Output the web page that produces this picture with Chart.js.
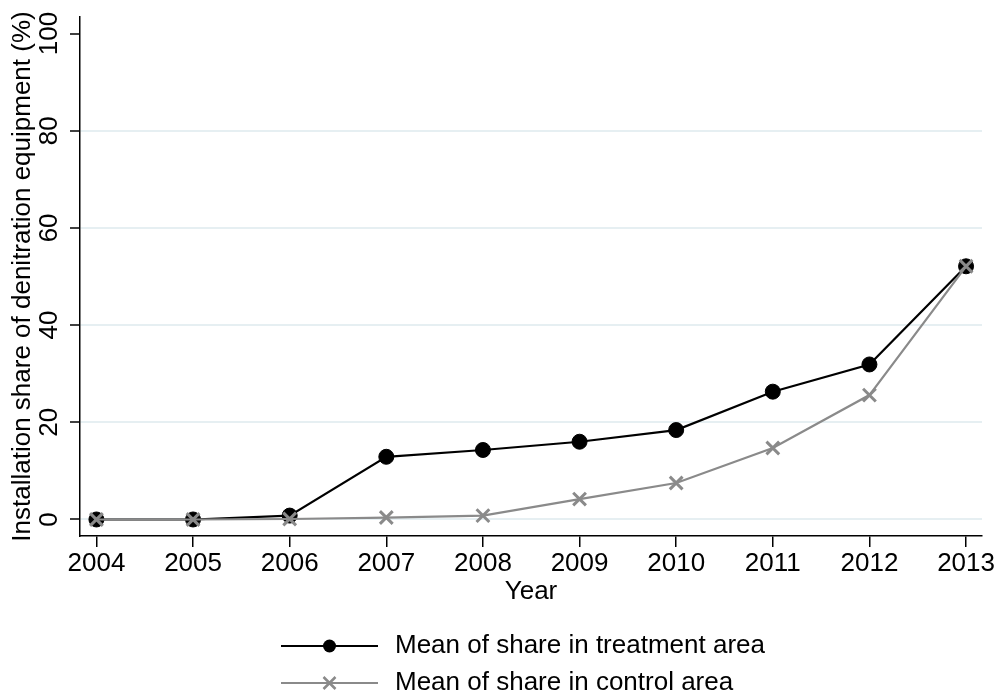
<!DOCTYPE html>
<html>
<head>
<meta charset="utf-8">
<script src="https://cdn.jsdelivr.net/npm/chart.js@4.4.1/dist/chart.umd.min.js"></script>
<style>
  html, body { margin: 0; padding: 0; background: #ffffff; }
  #wrap { width: 998px; height: 698px; }
</style>
</head>
<body>
<div id="wrap"><canvas id="chart" width="998" height="698"></canvas></div>
<script>
// Mean installation share of denitration equipment (%), by year
const years = [2004, 2005, 2006, 2007, 2008, 2009, 2010, 2011, 2012, 2013];
const treatmentShare = [0, 0, 0.8, 12.9, 14.3, 16.0, 18.4, 26.3, 31.9, 52.1];
const controlShare = [0, 0, 0.1, 0.4, 0.8, 4.2, 7.5, 14.7, 25.6, 52.1];
const yTickValues = [0, 20, 40, 60, 80, 100];
const seriesNames = ['Mean of share in treatment area', 'Mean of share in control area'];

const FONT = "'Liberation Sans', Arial, Helvetica, sans-serif";
const FS = 26;
const BLACK = '#000000';
const GREY = '#8a8a8a';
const GRID = '#e6eff2';

// Legend key: a line segment with the series marker in its middle
function legendKey(color, marker) {
  const c = document.createElement('canvas');
  c.width = 101; c.height = 22;
  const g = c.getContext('2d');
  g.strokeStyle = color;
  g.lineWidth = 2;
  g.beginPath(); g.moveTo(0, 11); g.lineTo(97, 11); g.stroke();
  if (marker === 'circle') {
    g.fillStyle = color;
    g.beginPath(); g.arc(48.5, 11, 6.5, 0, Math.PI * 2); g.fill();
  } else {
    const d = 6;
    g.lineWidth = 2.5;
    g.beginPath();
    g.moveTo(48.5 - d, 11 - d); g.lineTo(48.5 + d, 11 + d);
    g.moveTo(48.5 - d, 11 + d); g.lineTo(48.5 + d, 11 - d);
    g.stroke();
  }
  return c;
}

const toPoints = (vals) => years.map((yr, i) => ({ x: yr, y: vals[i] }));

// Places the two-row legend block under the plot, keys left-aligned
const legendBlock = {
  id: 'legendBlock',
  afterLayout(chart) {
    const lg = chart.legend;
    if (!lg) return;
    lg.left = 270;
    lg.right = lg.left + lg.width;
    lg.top = 622;
    lg.bottom = lg.top + lg.height;
  }
};

new Chart(document.getElementById('chart'), {
  type: 'line',
  data: {
    datasets: [
      {
        label: seriesNames[0],
        data: toPoints(treatmentShare),
        borderColor: BLACK,
        backgroundColor: BLACK,
        borderWidth: 2.2,
        pointStyle: 'circle',
        pointRadius: 7.5,
        pointBorderWidth: 1,
        pointBorderColor: BLACK,
        pointBackgroundColor: BLACK,
        tension: 0,
        order: 2
      },
      {
        label: seriesNames[1],
        data: toPoints(controlShare),
        borderColor: GREY,
        backgroundColor: GREY,
        borderWidth: 2.2,
        pointStyle: 'crossRot',
        pointRadius: 9,
        pointBorderWidth: 3,
        pointBorderColor: GREY,
        tension: 0,
        order: 1
      }
    ]
  },
  options: {
    responsive: false,
    animation: false,
    devicePixelRatio: 1,
    layout: { padding: { top: 17, right: 16, bottom: 0, left: 0 } },
    plugins: {
      tooltip: { enabled: false },
      legend: {
        display: true,
        position: 'bottom',
        align: 'start',
        fullSize: false,
        labels: {
          usePointStyle: true,
          pointStyleWidth: 101,
          boxHeight: FS,
          padding: 11,
          color: BLACK,
          font: { family: FONT, size: FS },
          generateLabels: () => [
            { text: seriesNames[0], pointStyle: legendKey(BLACK, 'circle'), fillStyle: BLACK, strokeStyle: BLACK, lineWidth: 0, hidden: false, datasetIndex: 0 },
            { text: seriesNames[1], pointStyle: legendKey(GREY, 'cross'), fillStyle: GREY, strokeStyle: GREY, lineWidth: 0, hidden: false, datasetIndex: 1 }
          ]
        }
      }
    },
    scales: {
      x: {
        type: 'linear',
        min: 2003.83,
        max: 2013.165,
        afterBuildTicks: (s) => { s.ticks = years.map(v => ({ value: v })); },
        afterFit: (s) => { s.height = 78; },
        grid: {
          drawOnChartArea: false,
          drawTicks: true,
          tickLength: 11,
          color: BLACK,
          lineWidth: 1.5
        },
        border: { display: true, color: BLACK, width: 1.5 },
        ticks: {
          padding: 1,
          color: BLACK,
          font: { family: FONT, size: FS },
          callback: (v) => String(v)
        },
        title: {
          display: true,
          text: 'Year',
          color: BLACK,
          font: { family: FONT, size: FS },
          padding: { top: 0, bottom: 7 }
        }
      },
      y: {
        type: 'linear',
        min: -3.4,
        max: 103.4,
        afterBuildTicks: (s) => { s.ticks = yTickValues.map(v => ({ value: v })); },
        afterFit: (s) => { s.width = 80; },
        grid: {
          drawOnChartArea: true,
          drawTicks: true,
          tickLength: 10,
          lineWidth: 2,
          color: (c) => (c.tick && c.tick.value === 100 ? 'rgba(0,0,0,0)' : GRID),
          tickColor: BLACK,
          tickWidth: 1.5
        },
        border: { display: true, color: BLACK, width: 1.5 },
        ticks: {
          minRotation: 90,
          maxRotation: 90,
          crossAlign: 'center',
          padding: -2,
          color: BLACK,
          font: { family: FONT, size: FS },
          callback: (v) => String(v)
        },
        title: {
          display: true,
          text: 'Installation share of denitration equipment (%)',
          color: BLACK,
          font: { family: FONT, size: FS },
          padding: { top: 7, bottom: 0 }
        }
      }
    }
  },
  plugins: [legendBlock]
});
</script>
</body>
</html>
